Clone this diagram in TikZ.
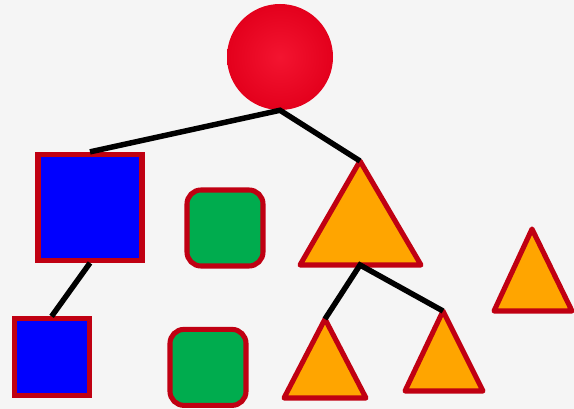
\documentclass[tikz,border=0pt]{standalone}
\usepackage{xcolor}
\usepackage{tikz}
\definecolor{TRBorder}{HTML}{C00012}
\definecolor{TRBlue}{HTML}{0000FF}
\definecolor{TRGreen}{HTML}{00AC4E}
\definecolor{TROrange}{HTML}{FFA500}
\definecolor{TRRed}{HTML}{F2001E}
\definecolor{TRLight}{HTML}{F5F5F5}
\tikzset{
  bluebox/.style={draw=TRBorder,fill=TRBlue,line width=3.6pt,rectangle,inner sep=0pt},
  greenbox/.style={draw=TRBorder,fill=TRGreen,line width=3.6pt,rectangle,rounded corners=0.35cm,inner sep=0pt,minimum size=1.9cm},
  tri/.style={draw=TRBorder,fill=TROrange,line width=3.6pt,line join=round},
  edge/.style={black,line width=3.9pt}
}

\begin{document}
\begin{tikzpicture}[x=1cm,y=1cm]
\path[use as bounding box] (0,0) rectangle (14.35,10.225);
\fill[TRLight] (0,0) rectangle (14.35,10.225);
% root ball
\shade[inner color=TRRed!92!white,outer color=TRRed!94!black] (7.0,8.8) circle (1.325);
\node[circle,minimum size=2.65cm,inner sep=0pt] (root) at (7.0,8.8) {};
% squares
\node[bluebox,minimum width=2.6cm,minimum height=2.65cm] (bigsq) at (2.25,5.04) {};
\node[bluebox,minimum width=1.875cm,minimum height=1.925cm] (smallsq) at (1.29,1.29) {};
\node[greenbox] (rnda) at (5.625,4.525) {};
\node[greenbox] (rndb) at (5.2,1.04) {};
% triangles
\draw[tri] (9.0,6.2) coordinate (bigtop) -- (10.525,3.6) -- (7.5,3.6) -- cycle;
\coordinate (bigbase) at (9.0,3.6);
\draw[tri] (8.125,2.25) coordinate (lefttop) -- (9.15,0.275) -- (7.1,0.275) -- cycle;
\draw[tri] (11.075,2.45) coordinate (righttop) -- (12.075,0.45) -- (10.125,0.45) -- cycle;
\draw[tri] (13.3,4.5) coordinate (lonetop) -- (14.3,2.45) -- (12.35,2.45) -- cycle;
% connectors
\draw[edge] (bigsq.north) -- (root.south) -- (bigtop);
\draw[edge] (bigsq.south) -- (smallsq.north);
\draw[edge] (lefttop) -- (bigbase) -- (righttop);
\end{tikzpicture}
\end{document}
